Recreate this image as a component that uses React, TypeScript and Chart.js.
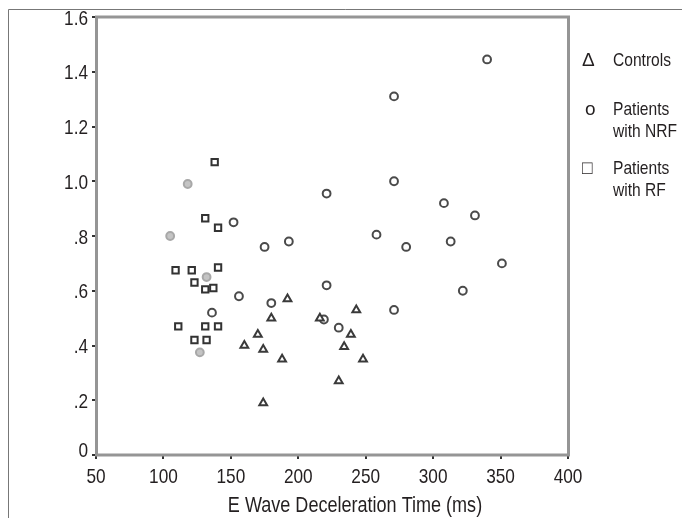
import React, { useEffect, useRef } from 'react';
import { Chart, registerables } from 'chart.js';

Chart.register(...registerables);

// E wave deceleration time (ms) vs value
const controlsPts: [number, number][] = [
  [192, 0.57], [180, 0.5], [170, 0.44], [160, 0.4], [174, 0.385], [188, 0.35],
  [174, 0.19], [216, 0.5], [243, 0.53], [239, 0.44], [234, 0.395], [248, 0.35], [230, 0.27],
];

const nrfPts: [number, number][] = [
  [340, 1.445], [271, 1.31], [271, 1.0], [221, 0.955], [308, 0.92], [331, 0.875],
  [258, 0.805], [280, 0.76], [313, 0.78], [351, 0.7], [221, 0.62], [322, 0.6],
  [271, 0.53], [219, 0.495], [230, 0.465], [152, 0.85], [175, 0.76], [193, 0.78],
  [156, 0.58], [180, 0.555], [136, 0.52],
];

const nrfFaintPts: [number, number][] = [
  [105, 0.8], [118, 0.99], [132, 0.65], [127, 0.375],
];

const rfPts: [number, number][] = [
  [138, 1.07], [131, 0.865], [140.5, 0.83], [109, 0.675], [121, 0.675], [140.5, 0.685],
  [123, 0.63], [131, 0.605], [137, 0.61], [111, 0.47], [131, 0.47], [140.5, 0.47],
  [123, 0.42], [132, 0.42],
];

const xTickValues = [50, 100, 150, 200, 250, 300, 350, 400];
const yTickValues = [0, 0.2, 0.4, 0.6, 0.8, 1.0, 1.2, 1.4, 1.6];
const yTickLabels = ['0', '.2', '.4', '.6', '.8', '1.0', '1.2', '1.4', '1.6'];
const xTitle = 'E Wave Deceleration Time (ms)';
const legendItems = [
  { symbol: '\u0394', lines: ['Controls'] },
  { symbol: 'o', lines: ['Patients', 'with NRF'] },
  { symbol: '\u25A1', lines: ['Patients', 'with RF'] },
];

const FONT = "'Liberation Sans', Arial, sans-serif";
const SX = 0.82; // narrow face emulation
const TEXT = '#231f20';

const toXY = (pts: [number, number][]) => pts.map(([x, y]) => ({ x, y }));

// draw text with its cap-centre at y
function drawText(ctx: CanvasRenderingContext2D, text: string, x: number, y: number, align: string, size: number, sx = SX) {
  ctx.save();
  ctx.font = `${size}px ${FONT}`;
  ctx.textBaseline = 'alphabetic';
  ctx.textAlign = 'left';
  const w = ctx.measureText(text).width * sx;
  const left = align === 'center' ? x - w / 2 : align === 'right' ? x - w : x;
  ctx.translate(left, y + size * 0.358);
  ctx.scale(sx, 1);
  ctx.fillStyle = TEXT;
  ctx.fillText(text, 0, 0);
  ctx.restore();
}

const decorPlugin = {
  id: 'decor',
  beforeDatasetsDraw(chart: any) {
    const ctx = chart.ctx;
    const a = chart.chartArea;
    ctx.save();
    ctx.strokeStyle = '#777';
    ctx.lineWidth = 1;
    ctx.beginPath();
    ctx.moveTo(8.5, 518);
    ctx.lineTo(8.5, 9.5);
    ctx.lineTo(682, 9.5);
    ctx.stroke();
    ctx.strokeStyle = '#959595';
    ctx.lineWidth = 3;
    ctx.strokeRect(a.left + 0.5, a.top, a.right - a.left, a.bottom - a.top);
    ctx.restore();
  },
  afterDraw(chart: any) {
    const ctx = chart.ctx;
    const xs = chart.scales.x;
    const ys = chart.scales.y;
    const a = chart.chartArea;
    // y tick labels
    yTickValues.forEach((v, i) => {
      const py = ys.getPixelForValue(v) - (i === 0 ? 6 : 0);
      drawText(ctx, yTickLabels[i], a.left - 8, py, 'right', 21);
    });
    // x tick labels
    xTickValues.forEach((v) => {
      drawText(ctx, String(v), xs.getPixelForValue(v), a.bottom + 20, 'center', 21);
    });
    // x axis title
    drawText(ctx, xTitle, 355, 504, 'center', 22);
    // legend
    const rows = [[59], [108, 130], [167, 189]];
    legendItems.forEach((item, i) => {
      drawText(ctx, item.symbol, i === 1 ? 585 : 582, rows[i][0], 'left', 19, i === 2 ? 0.9 : 1);
      item.lines.forEach((ln, j) => drawText(ctx, ln, 613, rows[i][j], 'left', 19));
    });
  },
};

export default function App() {
  const ref = useRef<HTMLCanvasElement | null>(null);
  useEffect(() => {
    if (!ref.current) return;
    const common = {
      showLine: false,
      borderWidth: 2,
      pointBorderWidth: 2,
      pointHoverRadius: 4,
    };
    const chart = new Chart(ref.current, {
      type: 'scatter',
      data: {
        datasets: [
          {
            ...common,
            label: 'Controls',
            data: toXY(controlsPts),
            pointStyle: 'triangle',
            pointRadius: 4.5,
            borderColor: '#3a3a3a',
            backgroundColor: '#fff',
          },
          {
            ...common,
            label: 'Patients with NRF',
            data: toXY(nrfPts),
            pointStyle: 'circle',
            pointRadius: 3.9,
            borderColor: '#4a4a4a',
            backgroundColor: '#fff',
          },
          {
            ...common,
            label: 'Patients with NRF (faint)',
            data: toXY(nrfFaintPts),
            pointStyle: 'circle',
            pointRadius: 3.9,
            borderColor: '#a8a8a8',
            backgroundColor: '#c4c4c4',
          },
          {
            ...common,
            label: 'Patients with RF',
            data: toXY(rfPts),
            pointStyle: 'rect',
            pointRadius: 4.5,
            borderColor: '#333',
            backgroundColor: '#fff',
          },
        ],
      },
      options: {
        responsive: false,
        animation: false,
        devicePixelRatio: 1,
        layout: { padding: { left: 0, top: 17, right: 114, bottom: 0 } },
        plugins: {
          legend: { display: false },
          tooltip: { enabled: false },
          title: { display: false },
        },
        scales: {
          x: {
            type: 'linear',
            min: 50,
            max: 400,
            afterFit: (s: any) => { s.height = 63; },
            afterBuildTicks: (s: any) => { s.ticks = xTickValues.map((value) => ({ value })); },
            ticks: { display: false },
            grid: {
              display: true,
              drawOnChartArea: false,
              drawTicks: true,
              tickLength: 4,
              color: '#333',
              lineWidth: 2,
            },
            border: { display: false },
          },
          y: {
            type: 'linear',
            min: 0,
            max: 1.6,
            afterFit: (s: any) => { s.width = 96; },
            afterBuildTicks: (s: any) => { s.ticks = yTickValues.map((value) => ({ value })); },
            ticks: { display: false },
            grid: {
              display: true,
              drawOnChartArea: false,
              drawTicks: true,
              tickLength: 4,
              color: '#333',
              lineWidth: 2,
            },
            border: { display: false },
          },
        },
      },
      plugins: [decorPlugin],
    });
    return () => chart.destroy();
  }, []);
  return (
    <div style={{ position: 'absolute', left: 0, top: 0, width: 682, height: 518, background: '#fff' }}>
      <canvas ref={ref} width={682} height={518} style={{ display: 'block' }} />
    </div>
  );
}
